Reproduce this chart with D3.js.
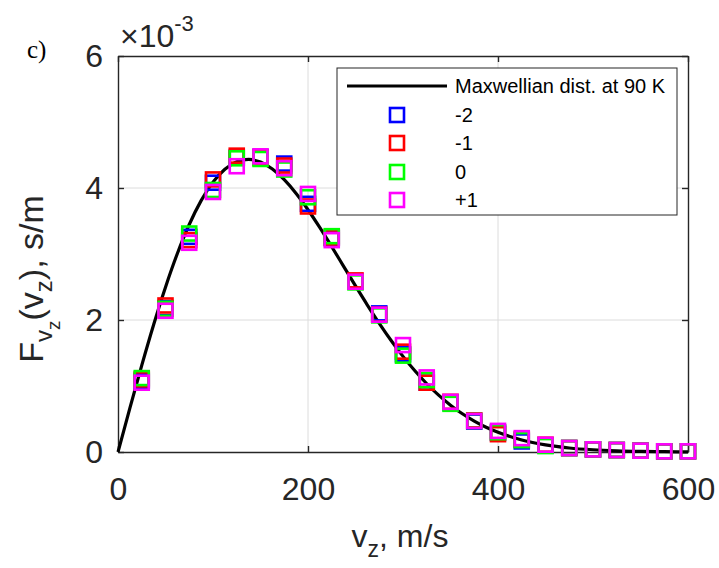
<!DOCTYPE html>
<html>
<head>
<meta charset="utf-8">
<script src="https://cdn.jsdelivr.net/npm/d3@7"></script>
<style>
  body { margin: 0; background: #fff; }
  svg { display: block; }
  text { font-family: "Liberation Sans", Arial, Helvetica, sans-serif; fill: #262626; }
</style>
</head>
<body>
<svg id="chart" width="719" height="568"></svg>
<script>
// Measured axial velocity distribution, values in units of 1e-3 s/m
const speeds = [25, 50, 75, 100, 125, 150, 175, 200, 225, 250, 275, 300,
                325, 350, 375, 400, 425, 450, 475, 500, 525, 550, 575, 600];
const seriesNames = ["-2", "-1", "0", "+1"];
const seriesColors = ["#0000ff", "#ff0000", "#00ff00", "#ff00ff"];
const valuesM2 = [1.08, 2.18, 3.26, 4.08, 4.46, 4.47, 4.37, 3.76, 3.24, 2.58, 2.10, 1.48,
                  1.05, 0.75, 0.46, 0.29, 0.16, 0.10, 0.06, 0.04, 0.03, 0.02, 0.01, 0.01];
const valuesM1 = [1.10, 2.22, 3.21, 4.13, 4.49, 4.46, 4.34, 3.72, 3.25, 2.60, 2.08, 1.52,
                  1.05, 0.76, 0.48, 0.27, 0.19, 0.11, 0.06, 0.04, 0.03, 0.02, 0.01, 0.01];
const values0 = [1.12, 2.17, 3.31, 3.97, 4.45, 4.44, 4.28, 3.86, 3.27, 2.57, 2.07, 1.46,
                 1.09, 0.73, 0.47, 0.30, 0.18, 0.09, 0.06, 0.04, 0.03, 0.02, 0.01, 0.01];
const valuesP1 = [1.05, 2.14, 3.17, 3.94, 4.33, 4.48, 4.30, 3.91, 3.21, 2.58, 2.08, 1.62,
                  1.13, 0.76, 0.47, 0.32, 0.21, 0.11, 0.06, 0.04, 0.03, 0.02, 0.01, 0.01];

// Maxwellian reference curve at 90 K (units of 1e-3 s/m)
const curveSpeeds = [0, 12.5, 25, 37.5, 50, 62.5, 75, 87.5, 100, 112.5, 125, 137.5, 150,
                     162.5, 175, 187.5, 200, 212.5, 225, 237.5, 250, 262.5, 275, 287.5, 300,
                     312.5, 325, 337.5, 350, 362.5, 375, 387.5, 400, 425, 450, 475, 500,
                     525, 550, 575, 600];
const curveValues = [0, 0.665, 1.313, 1.929, 2.498, 3.007, 3.447, 3.809, 4.089, 4.285, 4.398,
                     4.433, 4.393, 4.288, 4.126, 3.917, 3.671, 3.399, 3.110, 2.813, 2.516,
                     2.227, 1.950, 1.689, 1.449, 1.230, 1.034, 0.861, 0.710, 0.579, 0.469,
                     0.375, 0.298, 0.183, 0.108, 0.061, 0.034, 0.018, 0.009, 0.0045, 0.002];

const xTicks = [0, 200, 400, 600];
const yTicks = [0, 2, 4, 6];
const curveLabel = "Maxwellian dist. at 90 K";

const allSeries = [valuesM2, valuesM1, values0, valuesP1];

const svg = d3.select("#chart");
const plot = { left: 118, right: 688, top: 56, bottom: 452 };
const axisColor = "#262626";
const tickFont = 32;

const x = d3.scaleLinear().domain([0, 600]).range([plot.left, plot.right]);
const y = d3.scaleLinear().domain([0, 6]).range([plot.bottom, plot.top]);

// grid
const grid = svg.append("g");
grid.selectAll("line.gx").data(xTicks.slice(1, -1)).join("line")
  .attr("x1", d => x(d)).attr("x2", d => x(d))
  .attr("y1", plot.top).attr("y2", plot.bottom)
  .attr("stroke", "#dcdcdc").attr("stroke-width", 1);
grid.selectAll("line.gy").data(yTicks.slice(1, -1)).join("line")
  .attr("x1", plot.left).attr("x2", plot.right)
  .attr("y1", d => y(d)).attr("y2", d => y(d))
  .attr("stroke", "#dcdcdc").attr("stroke-width", 1);

// axes (inward ticks on all four sides)
function styleAxis(g) {
  g.select(".domain").attr("stroke", axisColor).attr("stroke-width", 1.4);
  g.selectAll(".tick line").attr("stroke", axisColor).attr("stroke-width", 1.4);
  g.selectAll(".tick text").attr("fill", axisColor).attr("font-size", tickFont);
}
const intFmt = d3.format("d");
svg.append("g").attr("transform", `translate(0,${plot.bottom})`)
  .call(d3.axisBottom(x).tickValues(xTicks).tickFormat(intFmt)
    .tickSizeInner(-6).tickSizeOuter(0).tickPadding(25))
  .call(styleAxis);
svg.append("g").attr("transform", `translate(0,${plot.top})`)
  .call(d3.axisTop(x).tickValues(xTicks).tickSizeInner(-6).tickSizeOuter(0).tickFormat(""))
  .call(styleAxis);
svg.append("g").attr("transform", `translate(${plot.left},0)`)
  .call(d3.axisLeft(y).tickValues(yTicks).tickFormat(intFmt)
    .tickSizeInner(-6).tickSizeOuter(0).tickPadding(15))
  .call(styleAxis);
svg.append("g").attr("transform", `translate(${plot.right},0)`)
  .call(d3.axisRight(y).tickValues(yTicks).tickSizeInner(-6).tickSizeOuter(0).tickFormat(""))
  .call(styleAxis);

// Maxwellian curve
const curvePts = curveSpeeds.map((v, i) => [v, curveValues[i]]);
svg.append("path").datum(curvePts)
  .attr("fill", "none").attr("stroke", "#000").attr("stroke-width", 3.2)
  .attr("d", d3.line().x(d => x(d[0])).y(d => y(d[1])).curve(d3.curveMonotoneX));

// measured points, hollow squares
const mSize = 14;
allSeries.forEach((vals, s) => {
  svg.append("g").selectAll("rect").data(vals).join("rect")
    .attr("x", (d, i) => x(speeds[i]) - mSize / 2)
    .attr("y", d => y(d) - mSize / 2)
    .attr("width", mSize).attr("height", mSize)
    .attr("fill", "none").attr("stroke", seriesColors[s]).attr("stroke-width", 2.6);
});

// legend
const leg = svg.append("g");
leg.append("rect").attr("x", 337).attr("y", 68).attr("width", 340).attr("height", 147)
  .attr("fill", "#fff").attr("stroke", axisColor).attr("stroke-width", 1);
leg.append("line").attr("x1", 347).attr("x2", 447).attr("y1", 86).attr("y2", 86)
  .attr("stroke", "#000").attr("stroke-width", 3.2);
leg.append("text").attr("x", 455).attr("y", 86).attr("dy", "0.35em")
  .attr("font-size", 20).style("fill", "#000").text(curveLabel);
const legRows = [115, 143, 172, 200];
seriesNames.forEach((name, s) => {
  leg.append("rect").attr("x", 397 - mSize / 2).attr("y", legRows[s] - mSize / 2)
    .attr("width", mSize).attr("height", mSize)
    .attr("fill", "none").attr("stroke", seriesColors[s]).attr("stroke-width", 2.6);
  leg.append("text").attr("x", 455).attr("y", legRows[s]).attr("dy", "0.35em")
    .attr("font-size", 20).style("fill", "#000").text(name);
});

// exponent label
const expo = svg.append("text").attr("x", 120).attr("y", 47).attr("font-size", tickFont);
expo.append("tspan").text("\u00d710");
expo.append("tspan").attr("font-size", 22).attr("dy", -16).text("-3");

// panel label (serif)
svg.append("text").attr("x", 27).attr("y", 58)
  .style("font-family", '"Liberation Serif", "Times New Roman", serif')
  .style("fill", "#000")
  .attr("font-size", 25).text("c)");

// y-axis label: F_{v_z}(v_z), s/m
const yl = svg.append("text")
  .attr("transform", "translate(43,279) rotate(-90)")
  .attr("text-anchor", "middle").attr("font-size", 34);
yl.append("tspan").text("F");
yl.append("tspan").attr("font-size", 24).attr("dy", 9).text("v");
yl.append("tspan").attr("font-size", 19).attr("dy", 8).text("z");
yl.append("tspan").attr("dy", -17).text("(v");
yl.append("tspan").attr("font-size", 24).attr("dy", 9).text("z");
yl.append("tspan").attr("dy", -9).text("), s/m");

// x-axis label: v_z, m/s
const xl = svg.append("text").attr("x", 400).attr("y", 547)
  .attr("text-anchor", "middle").attr("font-size", 32);
xl.append("tspan").text("v");
xl.append("tspan").attr("font-size", 23).attr("dy", 10).text("z");
xl.append("tspan").attr("dy", -10).text(", m/s");
</script>
</body>
</html>
